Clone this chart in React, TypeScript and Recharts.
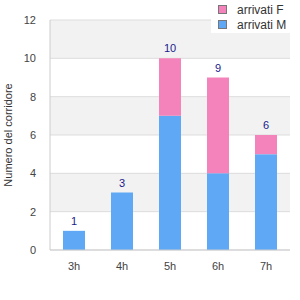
import { BarChart, Bar, XAxis, YAxis, CartesianGrid, LabelList } from "recharts";

const hours = ["3h", "4h", "5h", "6h", "7h"];
const maschi = [1, 3, 7, 4, 5];
const femmine = [0, 0, 3, 5, 1];
const yTicks = [0, 2, 4, 6, 8, 10, 12];

const PINK = "#f383ba";
const BLUE = "#5fa8f5";

const legendItems = [
  { name: "arrivati F", color: PINK },
  { name: "arrivati M", color: BLUE },
];

const data = hours.map((h, i) => ({
  hour: h,
  m: maschi[i],
  f: femmine[i],
  total: maschi[i] + femmine[i],
}));

// label above the whole stack, drawn from the M bar (F bars of 0 are not drawn)
function TotalLabel(props: any) {
  const { x, y, width, height, index } = props;
  const d = data[index];
  const fHeight = d.m ? (d.f * height) / d.m : 0;
  return (
    <text x={x + width / 2} y={y - fHeight - 6} textAnchor="middle" fill="#1a1a8c" fontSize={11} fontFamily="Liberation Sans">
      {d.total}
    </text>
  );
}

export default function App() {
  return (
    <div style={{ position: "absolute", left: 0, top: 0, width: 300, height: 300 }}>
      <BarChart width={300} height={300} data={data} margin={{ top: 20, right: 10, left: 0, bottom: 20 }} barCategoryGap={13}>
        <CartesianGrid vertical={false} stroke="#dddddd" horizontalFill={["#f2f2f2", "#ffffff"]} fillOpacity={1} />
        <XAxis dataKey="hour" height={30} tick={{ fill: "#444", fontSize: 11, fontFamily: "Liberation Sans" }} axisLine={{ stroke: "#cccccc" }} tickLine={false} tickMargin={6} />
        <YAxis width={50} domain={[0, 12]} ticks={yTicks} tick={{ fill: "#444", fontSize: 11, fontFamily: "Liberation Sans" }} axisLine={{ stroke: "#cccccc" }} tickLine={false} tickMargin={8}
          label={{ value: "Numero del corridore", angle: -90, position: "insideLeft", offset: 8, style: { textAnchor: "middle", fill: "#333", fontSize: 11, fontFamily: "Liberation Sans" } }} />
        <YAxis yAxisId="right" orientation="right" width={0} tick={false} axisLine={{ stroke: "#cccccc" }} tickLine={false} />
        <Bar dataKey="m" name="arrivati M" stackId="a" fill={BLUE} isAnimationActive={false}>
          <LabelList dataKey="total" content={<TotalLabel />} />
        </Bar>
        <Bar dataKey="f" name="arrivati F" stackId="a" fill={PINK} isAnimationActive={false} />
      </BarChart>
      <div style={{ position: "absolute", top: 0, right: 0, width: 89, height: 33, background: "#fff", paddingTop: 2, boxSizing: "border-box" }}>
        {legendItems.map((p) => (
          <div key={p.name} style={{ display: "flex", alignItems: "center", height: 15, fontSize: 12, color: "#333", fontFamily: "Liberation Sans" }}>
            <span style={{ display: "inline-block", width: 7, height: 7, background: p.color, border: "1px solid #777", marginLeft: 7, marginRight: 10 }} />
            {p.name}
          </div>
        ))}
      </div>
    </div>
  );
}
